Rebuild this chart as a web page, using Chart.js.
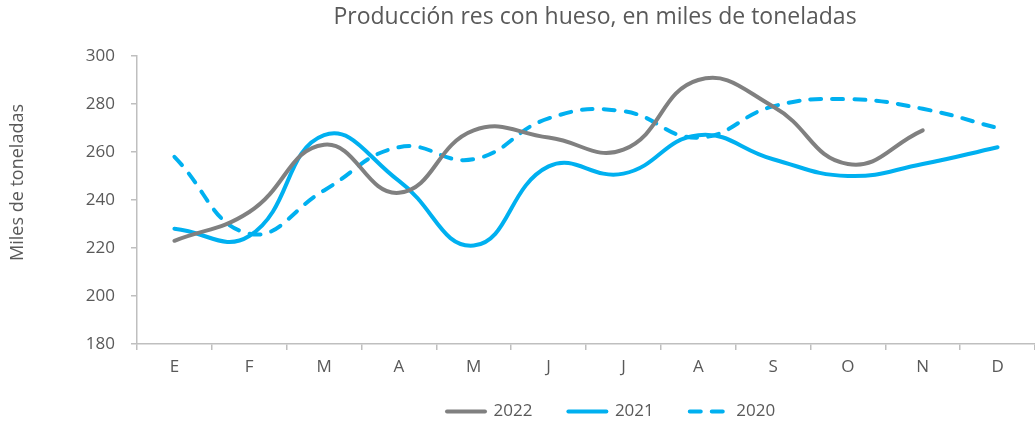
<!DOCTYPE html>
<html>
<head>
<meta charset="utf-8">
<script src="https://cdn.jsdelivr.net/npm/chart.js@4/dist/chart.umd.min.js"></script>
<style>
html,body{margin:0;padding:0;background:#fff;}
#wrap{width:1035px;height:428px;position:relative;}
</style>
</head>
<body>
<div id="wrap"><canvas id="c" width="1035" height="428"></canvas></div>
<script>
const categories = ['E','F','M','A','M','J','J','A','S','O','N','D'];
const seriesNames = ['2022','2021','2020'];
const values2022 = [223, 235, 263, 243, 269, 266, 261, 290, 279, 255, 269, null];
const values2021 = [228, 225, 267, 248, 221, 254, 251, 267, 257, 250, 255, 262];
const values2020 = [258, 226, 244, 262, 257, 274, 277, 266, 279, 282, 278, 270];
const yMin = 180, yMax = 300, yStep = 20;
const titleText = 'Producción res con hueso, en miles de toneladas';
const yTitleText = 'Miles de toneladas';

const TXT = '#595959';
const AX = '#bfbfbf';
const FONT = "'Open Sans', 'DejaVu Sans', sans-serif";

const positionPlugin = {
  id: 'positionPlugin',
  afterLayout(chart) {
    if (chart.titleBlock) {
      chart.titleBlock.left = 155;
      chart.titleBlock.right = 1035;
    }
    if (chart.legend) {
      chart.legend.options.labels.padding = 36;
      chart.legend.left = 447 - 36;
      chart.legend.right = 1035;
      chart.legend.top = 367;
    }
    const y = chart.scales.y;
    if (y && !y._titleWrapped) {
      const orig = Object.getPrototypeOf(y).drawTitle;
      y.drawTitle = function () {
        const b = this.bottom;
        this.bottom = b - 35;
        orig.call(this);
        this.bottom = b;
      };
      y._titleWrapped = true;
    }
  }
};

new Chart(document.getElementById('c'), {
  type: 'line',
  data: {
    labels: categories,
    datasets: [
      { label: seriesNames[0], data: values2022, borderColor: '#808080', backgroundColor: '#808080',
        borderWidth: 4, borderCapStyle: 'round', pointRadius: 0, tension: 0.45, fill: false, spanGaps: false },
      { label: seriesNames[1], data: values2021, borderColor: '#00b0f0', backgroundColor: '#00b0f0',
        borderWidth: 4, borderCapStyle: 'round', pointRadius: 0, tension: 0.45, fill: false },
      { label: seriesNames[2], data: values2020, borderColor: '#00b0f0', backgroundColor: '#00b0f0',
        borderWidth: 4, borderCapStyle: 'round', borderDash: [11, 11], pointRadius: 0, tension: 0.45, fill: false }
    ]
  },
  options: {
    responsive: false,
    animation: false,
    devicePixelRatio: 1,
    layout: { padding: { left: 0, right: 0, top: 0, bottom: 0 } },
    plugins: {
      title: {
        display: true,
        text: titleText,
        color: TXT,
        font: { family: FONT, size: 23, weight: 'normal', lineHeight: 1.2 },
        padding: { top: 4, bottom: 24.4 }
      },
      legend: {
        display: true,
        position: 'bottom',
        align: 'start',
        labels: {
          color: TXT,
          font: { family: FONT, size: 17 },
          usePointStyle: true,
          pointStyle: 'line',
          pointStyleWidth: 38,
          boxHeight: 16,
          padding: 10,
          generateLabels(chart) {
            const items = Chart.defaults.plugins.legend.labels.generateLabels(chart);
            items.forEach((it) => {
              const ds = chart.data.datasets[it.datasetIndex];
              it.lineDash = ds.borderDash || [];
              it.lineWidth = ds.borderWidth;
              it.strokeStyle = ds.borderColor;
              it.fillStyle = ds.borderColor;
              it.lineCap = 'round';
              it.pointStyle = 'line';
            });
            return items;
          }
        }
      },
      tooltip: { enabled: false }
    },
    scales: {
      x: {
        offset: true,
        grid: { display: true, offset: true, drawOnChartArea: false, drawTicks: true, tickLength: 6, color: AX, lineWidth: 1.5 },
        border: { display: true, color: AX, width: 1.5 },
        ticks: { color: TXT, font: { family: FONT, size: 17 }, padding: 7, maxRotation: 0, autoSkip: false },
        afterFit(scale) {
          const lh = scale.chart.legend ? scale.chart.legend.height : 40;
          scale.height = 428 - 344 - lh;
        }
      },
      y: {
        min: yMin, max: yMax,
        grid: { display: true, drawOnChartArea: false, drawTicks: true, tickLength: 6, color: AX, lineWidth: 1.5 },
        border: { display: true, color: AX, width: 1.5 },
        ticks: { stepSize: yStep, color: TXT, font: { family: FONT, size: 17 }, padding: 16 },
        title: { display: true, text: yTitleText, color: TXT, font: { family: FONT, size: 18 }, padding: { top: 7, bottom: 0 } },
        afterFit(scale) { scale.width = 137; }
      }
    }
  },
  plugins: [positionPlugin]
});
</script>
</body>
</html>
